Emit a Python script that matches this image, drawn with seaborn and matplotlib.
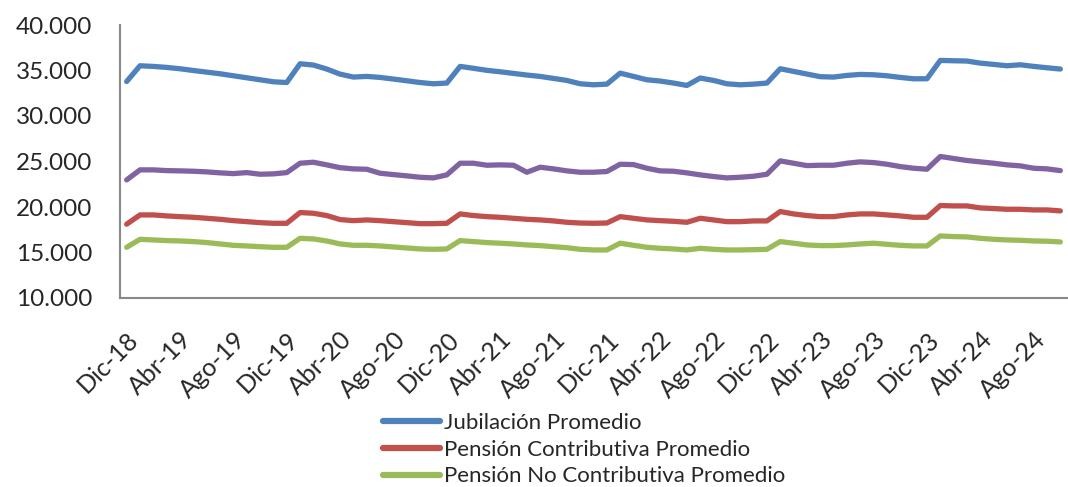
import matplotlib
matplotlib.use("Agg")
import matplotlib.pyplot as plt
from matplotlib.ticker import FuncFormatter
import numpy as np
import pandas as pd
import seaborn as sns


# monthly categories Dic-18 .. Oct-24
month_names = ["Ene", "Feb", "Mar", "Abr", "May", "Jun",
               "Jul", "Ago", "Sep", "Oct", "Nov", "Dic"]
periods = ["Dic-18"] + [f"{m}-{y}" for y in range(19, 25) for m in month_names]
periods = periods[:71]

jubilacion = [33790, 35520, 35450, 35340, 35190, 35000, 34820, 34640, 34420, 34200, 33980, 33760, 33680,
              35740, 35600, 35160, 34600, 34280, 34350, 34240, 34060, 33870, 33680, 33540, 33620,
              35450, 35240, 35020, 34860, 34680, 34500, 34350, 34130, 33910, 33540, 33430, 33500,
              34710, 34350, 33980, 33840, 33620, 33360, 34170, 33910, 33540, 33430, 33500, 33620,
              35190, 34900, 34610, 34320, 34280, 34460, 34570, 34530, 34420, 34240, 34090, 34090,
              36110, 36070, 36040, 35810, 35670, 35520, 35630, 35450, 35300, 35160]

total_promedio = [22980, 24080, 24080, 24000, 23970, 23930, 23860, 23750, 23670, 23780, 23600, 23640, 23780,
                  24810, 24920, 24630, 24320, 24190, 24150, 23710, 23560, 23420, 23270, 23200, 23530,
                  24810, 24810, 24590, 24630, 24590, 23820, 24370, 24190, 23970, 23820, 23820, 23900,
                  24700, 24660, 24260, 23970, 23930, 23750, 23530, 23350, 23200, 23270, 23380, 23600,
                  25070, 24810, 24550, 24590, 24590, 24810, 24960, 24880, 24700, 24440, 24260, 24150,
                  25550, 25330, 25110, 24960, 24810, 24630, 24520, 24260, 24190, 24000]

pension_contrib = [18110, 19130, 19130, 19020, 18940, 18870, 18760, 18650, 18500, 18390, 18280, 18210, 18210,
                   19390, 19310, 19060, 18620, 18500, 18580, 18500, 18390, 18280, 18170, 18170, 18210,
                   19240, 19060, 18940, 18870, 18760, 18650, 18580, 18470, 18320, 18240, 18210, 18240,
                   18940, 18760, 18580, 18500, 18430, 18320, 18760, 18580, 18390, 18390, 18470, 18470,
                   19500, 19240, 19060, 18940, 18940, 19130, 19240, 19240, 19130, 19020, 18870, 18870,
                   20160, 20120, 20120, 19900, 19830, 19750, 19750, 19680, 19680, 19570]

pension_no_contrib = [15570, 16450, 16380, 16310, 16270, 16200, 16090, 15940, 15790, 15720, 15640, 15570, 15570,
                      16560, 16490, 16270, 15940, 15790, 15790, 15720, 15610, 15500, 15390, 15350, 15390,
                      16310, 16200, 16090, 16020, 15940, 15830, 15760, 15640, 15530, 15350, 15280, 15280,
                      16020, 15790, 15570, 15460, 15390, 15280, 15460, 15350, 15280, 15280, 15310, 15350,
                      16200, 16020, 15830, 15760, 15760, 15830, 15940, 16020, 15900, 15790, 15720, 15720,
                      16820, 16750, 16710, 16560, 16450, 16380, 16340, 16270, 16240, 16160]

series_names = ["Jubilación Promedio", "Pensión Contributiva Promedio", "Pensión No Contributiva Promedio"]
colors = ["#4F81BD", "#C0504D", "#9BBB59"]
purple = "#8064A2"

idx = np.arange(len(periods))
df = pd.DataFrame({
    "x": np.tile(idx, 3),
    "valor": jubilacion + pension_contrib + pension_no_contrib,
    "serie": np.repeat(series_names, len(periods)),
})

sns.set_style("white")
plt.rcParams["font.family"] = ["Lato", "DejaVu Sans"]

fig = plt.figure(figsize=(10.68, 4.87), dpi=100)
ax = fig.add_axes([120 / 1068, 1 - 298 / 487, 947 / 1068, 273 / 487])

sns.lineplot(data=df, x="x", y="valor", hue="serie", palette=colors,
             hue_order=series_names, linewidth=3.8, ax=ax, legend=True)
sns.lineplot(x=idx, y=total_promedio, color=purple, linewidth=3.8, ax=ax, legend=False)

ax.set_xlim(-0.5, len(periods) - 0.5)
ax.set_ylim(10000, 40000)
ax.set_yticks(range(10000, 40001, 5000))
ax.yaxis.set_major_formatter(FuncFormatter(lambda v, p: f"{int(v):,}".replace(",", ".")))
ax.set_xticks(idx[::4])
ax.set_xticklabels(periods[::4], rotation=45, ha="right", rotation_mode="anchor")
ax.tick_params(axis="y", labelsize=17.5, length=0, pad=20)
ax.tick_params(axis="x", labelsize=18, length=0, pad=21)
ax.set_xlabel("")
ax.set_ylabel("")

for s in ["top", "right"]:
    ax.spines[s].set_visible(False)
for s in ["left", "bottom"]:
    ax.spines[s].set_color("#898989")
    ax.spines[s].set_linewidth(1.5)

handles, labels = ax.get_legend_handles_labels()
ax.legend_.remove()
leg = fig.legend(handles[:3], labels[:3], loc="upper left",
                 bbox_to_anchor=(383 / 1068, 1 - 413 / 487), frameon=False,
                 fontsize=16, handlelength=2.55, handletextpad=0.2,
                 labelspacing=0.3, borderaxespad=0, borderpad=0)
for line in leg.get_lines():
    line.set_linewidth(4.5)

fig.savefig("out.png", dpi=100)
